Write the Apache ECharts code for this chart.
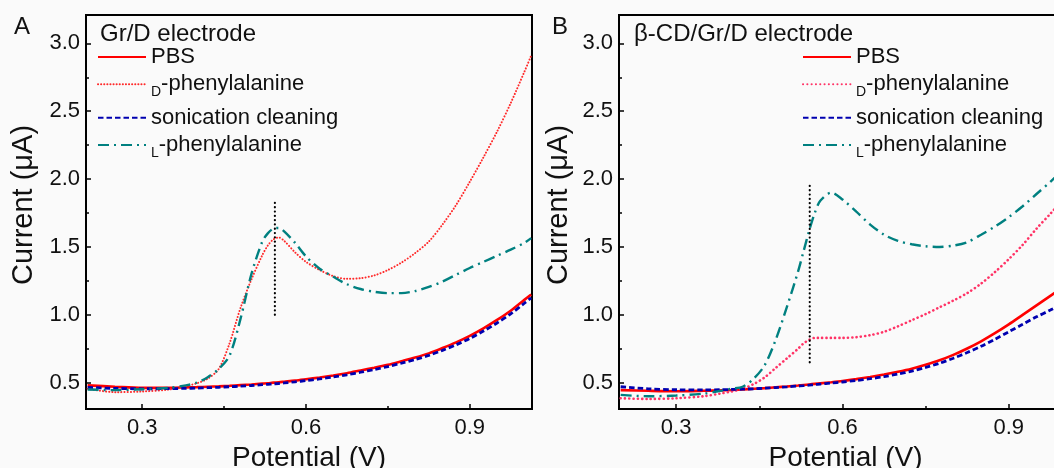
<!DOCTYPE html>
<html><head><meta charset="utf-8">
<script src="https://cdn.jsdelivr.net/npm/echarts@6/dist/echarts.min.js"></script>
<style>html,body{margin:0;padding:0;background:#fafafa}#c{width:1054px;height:468px}</style>
</head><body><div id="c"></div>
<script>
// Potential (V)
const potential = [0.20,0.25,0.30,0.35,0.38,0.40,0.42,0.44,0.46,0.48,0.50,0.52,0.53,0.54,0.55,0.56,0.58,0.60,0.625,0.65,0.675,0.70,0.725,0.75,0.775,0.80,0.825,0.85,0.875,0.90,0.925,0.95,0.975,1.00,1.0125];
// Panel A: Gr/D electrode (current, µA)
const aPBS   = [0.48,0.47,0.462,0.462,0.465,0.467,0.47,0.473,0.477,0.482,0.487,0.493,0.496,0.50,0.503,0.507,0.515,0.525,0.538,0.553,0.57,0.59,0.61,0.632,0.658,0.685,0.716,0.755,0.797,0.845,0.90,0.962,1.03,1.11,1.15];
const aDPhe  = [0.455,0.43,0.435,0.45,0.475,0.495,0.53,0.60,0.79,1.05,1.26,1.44,1.51,1.555,1.57,1.545,1.46,1.39,1.33,1.285,1.265,1.27,1.29,1.33,1.385,1.455,1.54,1.665,1.81,1.98,2.16,2.35,2.56,2.79,2.91];
const aSonic = [0.465,0.458,0.455,0.456,0.458,0.46,0.463,0.466,0.47,0.474,0.479,0.485,0.488,0.491,0.494,0.498,0.506,0.515,0.528,0.542,0.558,0.577,0.597,0.619,0.644,0.671,0.701,0.738,0.779,0.826,0.88,0.94,1.007,1.085,1.125];
const aLPhe  = [0.45,0.445,0.452,0.462,0.48,0.50,0.54,0.60,0.70,0.97,1.30,1.54,1.60,1.635,1.64,1.615,1.53,1.43,1.34,1.28,1.225,1.19,1.17,1.16,1.16,1.175,1.205,1.245,1.295,1.345,1.39,1.435,1.48,1.53,1.565];
// Panel B: β-CD/Gr/D electrode
const bPBS   = [0.445,0.44,0.437,0.44,0.443,0.446,0.45,0.455,0.46,0.466,0.472,0.479,0.483,0.487,0.491,0.495,0.503,0.512,0.526,0.542,0.56,0.58,0.603,0.632,0.665,0.705,0.752,0.805,0.865,0.93,1.0,1.07,1.14,1.21,1.245];
const bDPhe  = [0.385,0.38,0.385,0.40,0.42,0.435,0.455,0.49,0.54,0.61,0.68,0.75,0.79,0.815,0.83,0.83,0.83,0.83,0.835,0.85,0.875,0.915,0.96,1.005,1.055,1.105,1.16,1.23,1.315,1.41,1.515,1.635,1.745,1.86,1.92];
const bSonic = [0.47,0.455,0.448,0.447,0.448,0.45,0.452,0.455,0.459,0.464,0.469,0.475,0.478,0.482,0.486,0.49,0.497,0.505,0.516,0.529,0.545,0.563,0.585,0.612,0.643,0.68,0.722,0.768,0.82,0.875,0.93,0.985,1.035,1.09,1.12];
const bLPhe  = [0.41,0.40,0.405,0.42,0.44,0.455,0.47,0.53,0.63,0.82,1.06,1.32,1.47,1.62,1.75,1.84,1.90,1.85,1.76,1.665,1.59,1.545,1.52,1.505,1.50,1.51,1.535,1.59,1.65,1.72,1.80,1.89,1.98,2.08,2.13];
// Vertical peak markers: [potential, current from, current to]
const peakLineA = [0.543, 1.0, 1.845];
const peakLineB = [0.541, 0.65, 1.98];
// Ticks
const xMajor = [0.3, 0.6, 0.9];
const xMinor = [0.45, 0.75];
const yMajor = [0.5, 1.0, 1.5, 2.0, 2.5, 3.0];
const yMinor = [0.75, 1.25, 1.75, 2.25, 2.75];
const legendNames = ['PBS', 'D-phenylalanine', 'sonication cleaning', 'L-phenylalanine'];

const font = "'Liberation Sans', Arial, sans-serif";
const xMin = 0.197, xMax = 1.014, yMin = 0.306, yMax = 3.209;
const pair = ys => potential.map((x, i) => [x, ys[i]]);

const grids = [
  {left: 86, top: 15, width: 446, height: 394},
  {left: 619, top: 15, width: 453, height: 394}
].map(g => Object.assign(g, {show: true, borderColor: '#000', borderWidth: 2, backgroundColor: 'transparent', containLabel: false, outerBoundsMode: 'none'}));

const xAxes = [], yAxes = [];
[0, 1].forEach(gi => {
  xAxes.push({
    type: 'value', gridIndex: gi, min: xMin, max: xMax, position: 'bottom',
    axisLine: {lineStyle: {color: '#000', width: 2}},
    axisTick: {inside: true, length: 5, lineStyle: {color: '#000', width: 1.5}, customValues: xMajor},
    axisLabel: {customValues: xMajor, formatter: v => v.toFixed(1), fontSize: 22, color: '#111', fontFamily: font, margin: 8},
    splitLine: {show: false},
    name: 'Potential (V)', nameLocation: 'middle', nameGap: 32,
    nameTextStyle: {fontSize: 28, color: '#111', fontFamily: font}
  });
  xAxes.push({
    type: 'value', gridIndex: gi, min: xMin, max: xMax, position: 'bottom',
    axisLine: {show: false},
    axisTick: {inside: true, length: 3, lineStyle: {color: '#000', width: 1.5}, customValues: xMinor},
    axisLabel: {show: false}, splitLine: {show: false}
  });
  yAxes.push({
    type: 'value', gridIndex: gi, min: yMin, max: yMax, position: 'left',
    axisLine: {show: true, lineStyle: {color: '#000', width: 2}},
    axisTick: {show: true, inside: true, length: 5, lineStyle: {color: '#000', width: 1.5}, customValues: yMajor},
    axisLabel: {customValues: yMajor, formatter: v => v.toFixed(1), fontSize: 22, color: '#111', fontFamily: font, margin: 6},
    splitLine: {show: false},
    name: 'Current (μA)', nameLocation: 'middle', nameGap: gi === 0 ? 48 : 46, nameRotate: 90,
    nameTextStyle: {fontSize: 29, color: '#111', fontFamily: font, padding: [0, 0, 0, 14]}
  });
  yAxes.push({
    type: 'value', gridIndex: gi, min: yMin, max: yMax, position: 'left',
    axisLine: {show: false},
    axisTick: {show: true, inside: true, length: 3, lineStyle: {color: '#000', width: 1.5}, customValues: yMinor},
    axisLabel: {show: false}, splitLine: {show: false}
  });
});

const styles = {
  PBS: {color: '#ff0000', width: 2.6, type: 'solid', cap: 'butt'},
  DA: {color: '#ff2a2a', width: 2.0, type: [0.1, 3.0], cap: 'round'},
  DB: {color: '#ff3366', width: 2.6, type: [0.1, 4.2], cap: 'round'},
  S: {color: '#0000b0', width: 2.8, type: [5.5, 3], cap: 'butt'},
  L: {color: '#008080', width: 2.4, type: [11, 5, 2, 5], cap: 'butt'},
  P: {color: '#000', width: 2.2, type: [0.1, 4.2], cap: 'round'}
};
function line(name, gi, data, st, smooth) {
  return {
    name, type: 'line', xAxisIndex: gi * 2, yAxisIndex: gi * 2, data,
    symbol: 'none', showSymbol: false, smooth, silent: true, animation: false,
    lineStyle: {color: st.color, width: st.width, type: st.type, cap: st.cap},
    itemStyle: {color: st.color}
  };
}
const series = [
  line('A_0', 0, pair(aPBS), styles.PBS, 0.3),
  line('A_1', 0, pair(aDPhe), styles.DA, 0.3),
  line('A_2', 0, pair(aSonic), styles.S, 0.3),
  line('A_3', 0, pair(aLPhe), styles.L, 0.3),
  line('A_peak', 0, [[peakLineA[0], peakLineA[1]], [peakLineA[0], peakLineA[2]]], styles.P, false),
  line('B_0', 1, pair(bPBS), styles.PBS, 0.3),
  line('B_1', 1, pair(bDPhe), styles.DB, 0.3),
  line('B_2', 1, pair(bSonic), styles.S, 0.3),
  line('B_3', 1, pair(bLPhe), styles.L, 0.3),
  line('B_peak', 1, [[peakLineB[0], peakLineB[1]], [peakLineB[0], peakLineB[2]]], styles.P, false)
];

const rowCenters = [61, 88.3, 121.7, 149];
const legendLeft = [97, 802];
const legends = [];
['A', 'B'].forEach((p, pi) => {
  legendNames.forEach((n, i) => {
    legends.push({
      data: [p + '_' + i], orient: 'vertical', left: legendLeft[pi], top: rowCenters[i] - 15,
      itemWidth: 48, itemHeight: 14, padding: 0, selectedMode: false,
      itemStyle: {opacity: 0},
      formatter: () => {
        if (i === 1) return '{s|D}{m|-phenylalanine}';
        if (i === 3) return '{s|L}{m|-phenylalanine}';
        return '{m|' + n + '}';
      },
      textStyle: {
        fontFamily: font, color: '#111',
        rich: {
          m: {fontSize: 22, lineHeight: 30, fontFamily: font, color: '#111'},
          s: {fontSize: 14, padding: [16, 0, 0, 0], fontFamily: font, color: '#111'}
        }
      }
    });
  });
});

const titles = [
  {text: 'A', left: 14, top: 15},
  {text: 'B', left: 552, top: 15},
  {text: 'Gr/D electrode', left: 100, top: 22},
  {text: 'β-CD/Gr/D electrode', left: 634, top: 22}
].map(t => Object.assign(t, {padding: 0, textStyle: {fontSize: 24, fontWeight: 'normal', color: '#111', fontFamily: font}}));

const chart = echarts.init(document.getElementById('c'), null, {renderer: 'canvas'});
chart.setOption({
  backgroundColor: '#fafafa',
  animation: false,
  title: titles,
  legend: legends,
  grid: grids,
  xAxis: xAxes,
  yAxis: yAxes,
  series
});
</script></body></html>
